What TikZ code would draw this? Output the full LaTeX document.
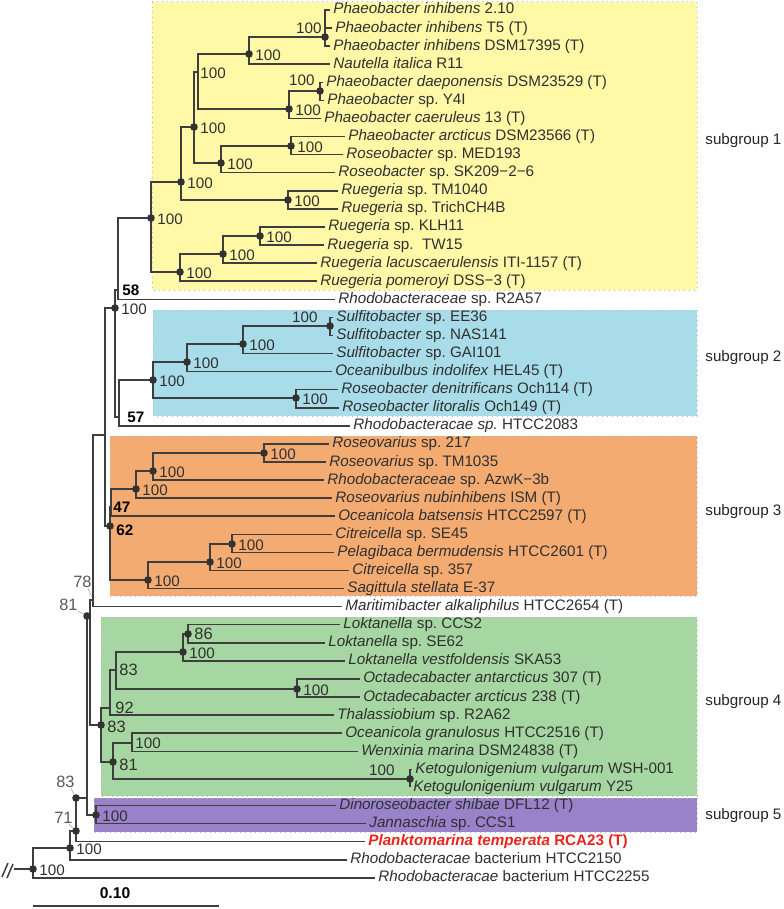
\documentclass[tikz,border=0pt]{standalone}
\usepackage{fontspec}
\setmainfont{Liberation Sans}
\frenchspacing

\definecolor{treeLine}{RGB}{62,62,62}
\definecolor{treeText}{RGB}{48,48,48}
\definecolor{treeMuted}{RGB}{90,90,90}
\definecolor{treeLeader}{RGB}{185,185,185}
\definecolor{groupBorder}{RGB}{185,185,185}
\definecolor{groupOne}{RGB}{255,248,166}
\definecolor{groupTwo}{RGB}{168,220,232}
\definecolor{groupThree}{RGB}{244,171,114}
\definecolor{groupFour}{RGB}{166,214,161}
\definecolor{groupFive}{RGB}{153,130,201}
\definecolor{typeStrain}{RGB}{232,36,30}

\begin{document}
\begin{tikzpicture}[x=.5pt,y=-.5pt,
    branch/.style={draw=treeLine, line width=.75pt},
    leader/.style={draw=treeLeader, line width=.4pt},
    groupbox/.style={draw=groupBorder, dotted, line width=.5pt},
    taxon/.style={font=\fontsize{7.6}{8}\selectfont, text=treeText,
      anchor=west, inner xsep=1.5pt, inner ysep=0pt,
      text height=5.6pt, text depth=1.6pt},
    boot/.style={font=\fontsize{7.6}{8}\selectfont, text=treeText,
      inner sep=0pt, text height=5.4pt, text depth=0pt},
    bootbig/.style={boot, font=\fontsize{8.2}{9}\selectfont},
    strong/.style={font=\fontsize{7.6}{8}\selectfont\bfseries, text=black,
      anchor=west, inner sep=0pt, text height=5.4pt, text depth=0pt},
    basal/.style={font=\fontsize{8.2}{9}\selectfont, text=treeMuted,
      anchor=east, inner sep=0pt, text height=5.9pt, text depth=0pt},
    subgroup/.style={font=\fontsize{7.6}{8}\selectfont, text=black!85,
      anchor=west, inner sep=0pt}]
  \useasboundingbox (0,0) rectangle (783,909);
  \fill[white] (0,0) rectangle (783,909);

  % subgroup backgrounds
  \path[groupbox, fill=groupOne] (152,2) rectangle (697,290);
  \path[groupbox, fill=groupTwo] (153,310) rectangle (697,416);
  \path[groupbox, fill=groupThree] (110,436) rectangle (697,596);
  \path[groupbox, fill=groupFour] (101,617) rectangle (697,796);
  \path[groupbox, fill=groupFive] (94,798) rectangle (697,832);
  \node[subgroup] (g1) at (705,141) {subgroup 1};
  \node[subgroup] (g2) at (705,358) {subgroup 2};
  \node[subgroup] (g3) at (705,512) {subgroup 3};
  \node[subgroup] (g4) at (705,702) {subgroup 4};
  \node[subgroup] (g5) at (705,816) {subgroup 5};

  % tips
  \foreach \i/\x/\txt in {
      1/330/{\textit{Phaeobacter inhibens} 2.10},
      2/332/{\textit{Phaeobacter inhibens} T5 (T)},
      3/330/{\textit{Phaeobacter inhibens} DSM17395 (T)},
      4/330/{\textit{Nautella italica} R11},
      5/323/{\textit{Phaeobacter daeponensis} DSM23529 (T)},
      6/324/{\textit{Phaeobacter} sp. Y4I},
      7/321/{\textit{Phaeobacter caeruleus} 13 (T)},
      8/345/{\textit{Phaeobacter arcticus} DSM23566 (T)},
      9/343/{\textit{Roseobacter} sp. MED193},
      10/335/{\textit{Roseobacter} sp. SK209−2−6},
      11/338/{\textit{Ruegeria} sp. TM1040},
      12/338/{\textit{Ruegeria} sp. TrichCH4B},
      13/325/{\textit{Ruegeria} sp. KLH11},
      14/324/{\textit{Ruegeria} sp.\ \ TW15},
      15/317/{\textit{Ruegeria lacuscaerulensis} ITI-1157 (T)},
      16/317/{\textit{Ruegeria pomeroyi} DSS−3 (T)},
      17/335/{\textit{Rhodobacteraceae} sp. R2A57},
      18/333/{\textit{Sulfitobacter} sp. EE36},
      19/333/{\textit{Sulfitobacter} sp. NAS141},
      20/333/{\textit{Sulfitobacter} sp. GAI101},
      21/332/{\textit{Oceanibulbus indolifex} HEL45 (T)},
      22/338/{\textit{Roseobacter denitrificans} Och114 (T)},
      23/339/{\textit{Roseobacter litoralis} Och149 (T)},
      24/350/{\textit{Rhodobacteracae sp.} HTCC2083},
      25/329/{\textit{Roseovarius} sp. 217},
      26/326/{\textit{Roseovarius} sp. TM1035},
      27/324/{\textit{Rhodobacteraceae} sp. AzwK−3b},
      28/332/{\textit{Roseovarius nubinhibens} ISM (T)},
      29/335/{\textit{Oceanicola batsensis} HTCC2597 (T)},
      30/332/{\textit{Citreicella} sp. SE45},
      31/334/{\textit{Pelagibaca bermudensis} HTCC2601 (T)},
      32/349/{\textit{Citreicella} sp. 357},
      33/344/{\textit{Sagittula stellata} E-37},
      34/342/{\textit{Maritimibacter alkaliphilus} HTCC2654 (T)},
      35/340/{\textit{Loktanella} sp. CCS2},
      36/325/{\textit{Loktanella} sp. SE62},
      37/345/{\textit{Loktanella vestfoldensis} SKA53},
      38/360/{\textit{Octadecabacter antarcticus} 307 (T)},
      39/360/{\textit{Octadecabacter arcticus} 238 (T)},
      40/334/{\textit{Thalassiobium} sp. R2A62},
      41/342/{\textit{Oceanicola granulosus} HTCC2516 (T)},
      42/358/{\textit{Wenxinia marina} DSM24838 (T)},
      43/412/{\textit{Ketogulonigenium vulgarum} WSH-001},
      44/410/{\textit{Ketogulonigenium vulgarum} Y25},
      45/336/{\textit{Dinoroseobacter shibae} DFL12 (T)},
      46/366/{\textit{Jannaschia} sp. CCS1},
      47/365/{\color{typeStrain}\bfseries\textit{Planktomarina temperata} RCA23 (T)},
      48/347/{\textit{Rhodobacteracae} bacterium HTCC2150},
      49/375/{\textit{Rhodobacteracae} bacterium HTCC2255}}{
    \coordinate (t\i) at (\x,{10+18.08*(\i-1)});
    \node[taxon] (l\i) at (t\i) {\txt};}

  % inner nodes
  \foreach \n/\x/\y in {
      n1/325/37, n2/249/54, n3/320/91, n4/289/109, n5/198/72,
      n6/291/146, n7/221/163, n8/194/127, n9/288/200, n10/181/182,
      n11/260/236, n12/223/254, n13/180/272, n14/151/218, n15/118/290,
      n16/330/326, n17/243/344, n18/187/362, n19/296/398, n20/153/380,
      n21/119/417, n22/115/308,
      n23/264/453, n24/153/471, n25/136/489, n26/111/507, n27/232/544,
      n28/210/562, n29/148/580, n30/110/526, n31/105/435, n32/93/600,
      n33/188/634, n34/183/652, n35/297/689, n36/116/670, n37/110/708,
      n38/132/743, n39/410/779, n40/113/762, n41/101/725,
      n42/96/815, n43/90/616, n44/87/798, n45/76/831, n46/70/848,
      n47/33/869}
    \coordinate (\n) at (\x,\y);
  \coordinate (root) at (14,869);
  \coordinate (d81) at (n44 |- n43);
  \coordinate (d83) at (n45 |- n44);

  % branches
  \foreach \p/\c in {
      n1/t1, n1/t2, n1/t3, n2/n1, n2/t4, n3/t5, n3/t6, n4/n3, n4/t7,
      n5/n2, n5/n4, n6/t8, n6/t9, n7/n6, n7/t10, n8/n5, n8/n7,
      n9/t11, n9/t12, n10/n8, n10/n9, n11/t13, n11/t14, n12/n11,
      n12/t15, n13/n12, n13/t16, n14/n10, n14/n13, n15/n14, n15/t17,
      n16/t18, n16/t19, n17/n16, n17/t20, n18/n17, n18/t21, n19/t22,
      n19/t23, n20/n18, n20/n19, n21/n20, n21/t24, n22/n15, n22/n21,
      n23/t25, n23/t26, n24/n23, n24/t27, n25/n24, n25/t28, n26/n25,
      n26/t29, n27/t30, n27/t31, n28/n27, n28/t32, n29/n28, n29/t33,
      n30/n26, n30/n29, n31/n22, n31/n30, n32/n31, n32/t34,
      n33/t35, n33/t36, n34/n33, n34/t37, n35/t38, n35/t39, n36/n34,
      n36/n35, n37/n36, n37/t40, n38/t41, n38/t42, n39/t43, n39/t44,
      n40/n38, n40/n39, n41/n37, n41/n40,
      n42/t45, n42/t46, n43/n32, n43/n41, n44/n43, n44/n42,
      n45/n44, n45/t47, n46/n45, n46/t48, n47/n46, n47/t49}
    \draw[branch] (\p) |- (\c);
  \draw[branch] (root) -- (n47);
  \draw[branch] (2,877) -- (8,863) (7,878) -- (13,864);

  % dots
  \foreach \n in {n1,n2,n3,n4,n6,n7,n8,n9,n10,n11,n12,n13,n14,n16,n17,
      n18,n19,n20,n22,n23,n24,n25,n27,n28,n29,n30,n33,n34,n35,n39,n40,
      n41,n42,n45,n46,n47,d81,d83}
    \fill[treeLine!80!black] (\n) circle (1.9pt);

  % support values
  \foreach \n in {n2,n4,n6,n7,n8,n9,n10,n11,n12,n13,n14,n17,n18,n19,n20,
      n22,n23,n24,n25,n27,n28,n29,n34,n35,n42,n46,n47}
    \node[boot, anchor=west, xshift=3pt, yshift=-.5pt] (b\n) at (\n) {100};
  \node[boot, anchor=west, xshift=1pt, yshift=-.5pt] (bn5) at (n5) {100};
  \node[boot, anchor=east, xshift=-1.5pt, yshift=4.5pt] (bn1) at (n1) {100};
  \node[boot, anchor=east, xshift=-2.5pt, yshift=5.5pt] (bn3) at (n3) {100};
  \node[boot, anchor=east, xshift=-6pt, yshift=4.5pt] (bn16) at (n16) {100};
  \node[boot, anchor=east, xshift=-7.5pt, yshift=4.5pt] (bn39) at (n39) {100};
  \node[bootbig, anchor=west, xshift=3pt] (bn33) at (n33) {86};
  \node[bootbig, anchor=west, xshift=1.5pt] (bn36) at (n36) {83};
  \node[bootbig, anchor=west, xshift=2.5pt] (bn37) at (n37) {92};
  \node[boot, anchor=west, xshift=1.5pt] (bn38) at (n38) {100};
  \node[bootbig, anchor=west, xshift=3pt, yshift=-1.5pt] (bn40) at (n40) {81};
  \node[bootbig, anchor=west, xshift=3pt, yshift=-1pt] (bn41) at (n41) {83};

  \node[strong, xshift=2pt] (s58) at (n15) {58};
  \node[strong, xshift=4pt] (s57) at (n21) {57};
  \node[strong, xshift=1pt] (s47) at (n26) {47};
  \node[strong, xshift=3pt, yshift=-2pt] (s62) at (n30) {62};

  \node[basal, xshift=-.5pt, yshift=9pt] (lab78) at (n32) {78};
  \node[basal, xshift=-4.5pt, yshift=5.5pt] (lab81) at (d81) {81};
  \node[basal, xshift=-.5pt, yshift=8pt] (lab83) at (d83) {83};
  \node[basal, xshift=-1.5pt, yshift=6.5pt] (lab71) at (n45) {71};
  \draw[leader, shorten >=2pt] ([xshift=-2pt]lab78.south east) -- (n32);
  \draw[leader, shorten >=2pt] (lab81.south east) -- (d81);
  \draw[leader, shorten >=2pt] ([xshift=-2pt]lab83.south east) -- (d83);
  \draw[leader, shorten >=2pt] ([xshift=-2pt]lab71.south east) -- (n45);

  % scale bar
  \coordinate (barL) at (33,906);
  \coordinate (barR) at (219,906);
  \draw[branch] (barL) -- (barR);
  \node[strong, anchor=center, font=\fontsize{7.8}{8}\selectfont\bfseries]
    (barlab) at (115,893) {0.10};
\end{tikzpicture}
\end{document}
